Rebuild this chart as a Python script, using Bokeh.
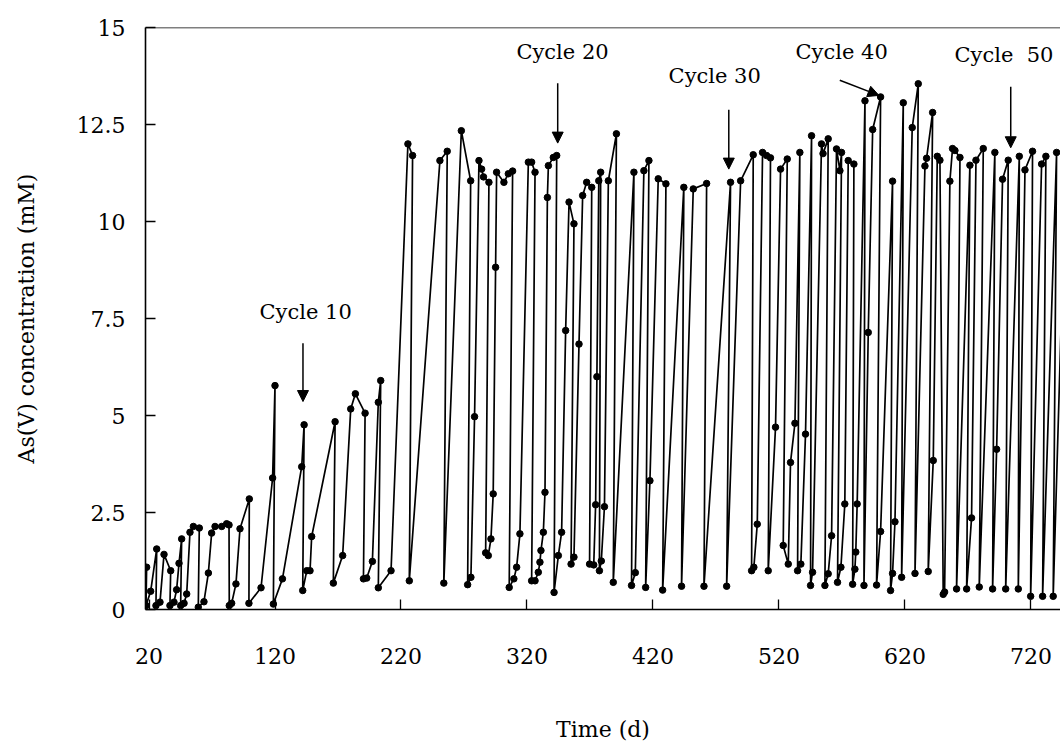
from bokeh.plotting import figure
from bokeh.models import Range1d, FixedTicker, Label, Arrow, NormalHead, Span, ColumnDataSource
from bokeh.embed import file_html
from bokeh.resources import INLINE

# ---------------- data ----------------
time_d = [
    18.1, 17.6, 21.3, 26.1, 25.5, 28.7, 31.9, 37.2, 36.6, 39.8, 41.9, 43.8, 45.9, 45.1, 47.8, 49.9,
    52.5, 55.2, 59.9, 59.1, 63.6, 67.1, 69.7, 72.4, 77.7, 81.6, 83.5, 83.7, 85.6, 89.0, 92.2, 99.6,
    99.3, 108.9, 118.1, 120.0, 118.7, 125.9, 141.2, 143.1, 142.0, 145.2, 147.8, 149.1, 167.7, 166.3,
    173.7, 180.1, 183.8, 191.5, 190.2, 192.8, 197.3, 202.0, 203.9, 202.0, 212.1,
    225.5, 229.2, 226.6, 250.9, 256.7, 254.0, 267.9, 275.3, 272.9, 275.5, 278.4, 281.9, 284.0, 285.5,
    289.8, 287.2, 289.3, 291.4, 293.2, 295.1, 295.9, 301.7, 305.2, 308.6, 305.9, 309.6, 311.8, 314.4,
    321.1, 323.7, 326.4, 323.7, 326.4, 329.0, 330.3, 331.1, 333.0, 334.3, 336.2, 337.0, 340.9, 343.6,
    341.5, 344.9, 347.5, 350.7, 353.4, 357.3, 355.0, 357.3, 361.3, 364.2, 367.4, 371.4, 369.7, 373.0,
    374.5, 375.5, 377.0, 378.5, 377.5, 379.0, 381.5, 384.6, 391.0, 388.5, 404.9, 403.0, 406.0, 412.8,
    416.8, 414.2, 417.6, 424.2, 430.3, 427.7, 444.5, 442.7, 452.0, 462.6, 460.5, 481.6, 478.5, 489.6,
    499.6, 498.3, 500.1, 502.8, 507.0, 510.2, 513.3, 511.5, 517.3, 521.3, 526.6, 523.4, 527.4, 529.2,
    532.7, 536.6, 534.8, 537.4, 541.1, 545.9, 545.1, 546.7, 553.8, 555.0, 559.1, 556.5, 559.1, 561.8,
    565.7, 568.4, 569.7, 566.5, 569.2, 572.3,
    575.0, 579.5, 578.5, 580.3, 581.0, 582.1, 588.3, 587.5, 590.9, 594.4, 600.7, 597.5, 600.7, 610.2,
    608.6, 610.2, 612.1, 618.7, 617.4, 625.8, 630.6, 628.0, 635.9, 637.2, 642.0, 638.5, 642.5, 645.7,
    647.8, 650.4, 651.5, 655.7, 657.8, 659.7, 663.7, 661.0, 671.6, 669.0, 672.9, 676.4, 682.2, 679.0,
    691.4, 689.6, 692.8, 697.5, 702.0, 700.0, 710.8, 710.0, 715.3, 721.3, 719.8, 728.5, 731.9, 729.3,
    740.4, 737.7, 748.0,
]
as_v_mM = [
    1.09, 0.10, 0.47, 1.56, 0.10, 0.19, 1.42, 1.00, 0.10, 0.19, 0.51, 1.19, 1.82, 0.10, 0.16, 0.40,
    1.99, 2.14, 2.10, 0.06, 0.20, 0.94, 1.97, 2.14, 2.14, 2.21, 2.18, 0.10, 0.16, 0.66, 2.08, 2.85,
    0.16, 0.56, 3.39, 5.77, 0.14, 0.79, 3.68, 4.76, 0.49, 1.00, 1.00, 1.88, 4.84, 0.68,
    1.39, 5.17, 5.56, 5.06, 0.79, 0.81, 1.24, 5.34, 5.90, 0.56, 1.00,
    12.00, 11.70, 0.74, 11.57, 11.81, 0.68, 12.34, 11.05, 0.64, 0.83, 4.97, 11.57, 11.35, 11.15,
    11.01, 1.46, 1.39, 1.82, 2.98, 8.82, 11.27, 11.01, 11.23, 11.30, 0.57, 0.79, 1.09, 1.95,
    11.53, 11.53, 11.27, 0.74, 0.74, 0.96, 1.22, 1.52, 1.99, 3.02, 10.62, 11.44, 11.65, 11.70,
    0.44, 1.39, 1.99, 7.19, 10.50, 9.94, 1.17, 1.35, 6.84, 10.67, 11.01, 10.88, 1.17, 1.15,
    2.70, 6.00, 11.05, 11.27, 1.00, 1.25, 2.65, 11.05, 12.26, 0.70, 11.27, 0.62, 0.95, 11.31,
    11.57, 0.57, 3.32, 11.10, 10.97, 0.50, 10.88, 0.60, 10.84, 10.98, 0.60, 11.01, 0.60, 11.05,
    11.72, 1.00, 1.09, 2.20, 11.78, 11.70, 11.64, 1.00, 4.70, 11.35, 11.61, 1.65, 1.17, 3.79,
    4.80, 11.78, 1.00, 1.17, 4.52, 12.21, 0.62, 0.96, 12.00, 11.75, 12.13, 0.62, 0.92, 1.90,
    11.87, 11.31, 11.78, 0.70, 1.09, 2.72,
    11.57, 11.48, 0.65, 1.04, 1.48, 2.72, 13.11, 0.62, 7.14, 12.37, 13.21, 0.63, 2.01, 11.04,
    0.49, 0.93, 2.26, 13.06, 0.83, 12.42, 13.55, 0.93, 11.43, 11.63, 12.81, 0.98, 3.84, 11.68,
    11.58, 0.39, 0.45, 11.04, 11.88, 11.83, 11.65, 0.53, 11.45, 0.53, 2.36, 11.58, 11.88, 0.58,
    11.78, 0.53, 4.13, 11.09, 11.58, 0.53, 11.68, 0.53, 11.33, 11.81, 0.34, 11.48, 11.68, 0.34,
    11.78, 0.34, 11.80,
]

x_ticks = [20, 120, 220, 320, 420, 520, 620, 720]
y_ticks = [0, 2.5, 5, 7.5, 10, 12.5, 15]
y_tick_labels = {0: "0", 2.5: "2.5", 5: "5", 7.5: "7.5", 10: "10", 12.5: "12.5", 15: "15"}

cycle_names = ["Cycle 10", "Cycle 20", "Cycle 30", "Cycle 40", "Cycle\u00a0\u00a050"]
cycle_text_x = [144.3, 348.2, 469.0, 569.8, 698.6]
cycle_text_y = [7.68, 14.37, 13.74, 14.37, 14.29]
arrow_x0 = [142.2, 344.4, 480.2, 568.3, 704.0]
arrow_y0 = [6.86, 13.56, 12.88, 13.64, 13.47]
arrow_x1 = [142.2, 344.4, 480.2, 599.4, 704.0]
arrow_y1 = [5.36, 12.02, 11.35, 13.25, 11.90]

FONT = "DejaVu Serif"

# ---------------- figure ----------------
p = figure(width=1060, height=745, output_backend="svg", toolbar_location=None,
           x_range=Range1d(17.2, 743.5), y_range=Range1d(0, 15),
           min_border_left=145, min_border_right=0, min_border_top=27, min_border_bottom=136)
p.outline_line_color = None
p.xgrid.visible = False
p.ygrid.visible = False
p.background_fill_color = "white"

src = ColumnDataSource(data=dict(t=time_d, v=as_v_mM))
p.line("t", "v", source=src, line_color="black", line_width=1.7)
p.scatter("t", "v", source=src, size=6.5, fill_color="black", line_color="black")

# top frame line
p.add_layout(Span(location=15, dimension="width", line_color="black", line_width=1.6))

for ax in (p.xaxis[0], p.yaxis[0]):
    ax.axis_line_color = "black"
    ax.axis_line_width = 1.6
    ax.major_tick_in = 10
    ax.major_tick_out = 0
    ax.minor_tick_line_color = None
    ax.major_tick_line_color = "black"
    ax.major_tick_line_width = 1.3
    ax.major_label_text_font = FONT
    ax.major_label_text_font_size = "22px"
    ax.major_label_text_color = "black"
    ax.axis_label_text_font = FONT
    ax.axis_label_text_font_size = "22px"
    ax.axis_label_text_font_style = "normal"
    ax.axis_label_text_color = "black"

p.xaxis.ticker = FixedTicker(ticks=x_ticks)
p.xaxis.major_label_standoff = 38
p.xaxis.axis_label = "Time (d)"
p.xaxis.axis_label_standoff = 50

p.yaxis.ticker = FixedTicker(ticks=y_ticks)
p.yaxis.major_label_overrides = y_tick_labels
p.yaxis.major_label_standoff = 20
p.yaxis.axis_label = "As(V) concentration (mM)"
p.yaxis.axis_label_standoff = 35

for name, tx, ty in zip(cycle_names, cycle_text_x, cycle_text_y):
    p.add_layout(Label(x=tx, y=ty, text=name, text_font=FONT, text_font_size="21px",
                       text_align="center", text_baseline="middle", text_color="black"))

for xa, ya, xb, yb in zip(arrow_x0, arrow_y0, arrow_x1, arrow_y1):
    p.add_layout(Arrow(end=NormalHead(size=11, fill_color="black", line_color="black"),
                       x_start=xa, y_start=ya, x_end=xb, y_end=yb,
                       line_color="black", line_width=1.5))

open("out.html", "w").write(file_html(p, INLINE))
